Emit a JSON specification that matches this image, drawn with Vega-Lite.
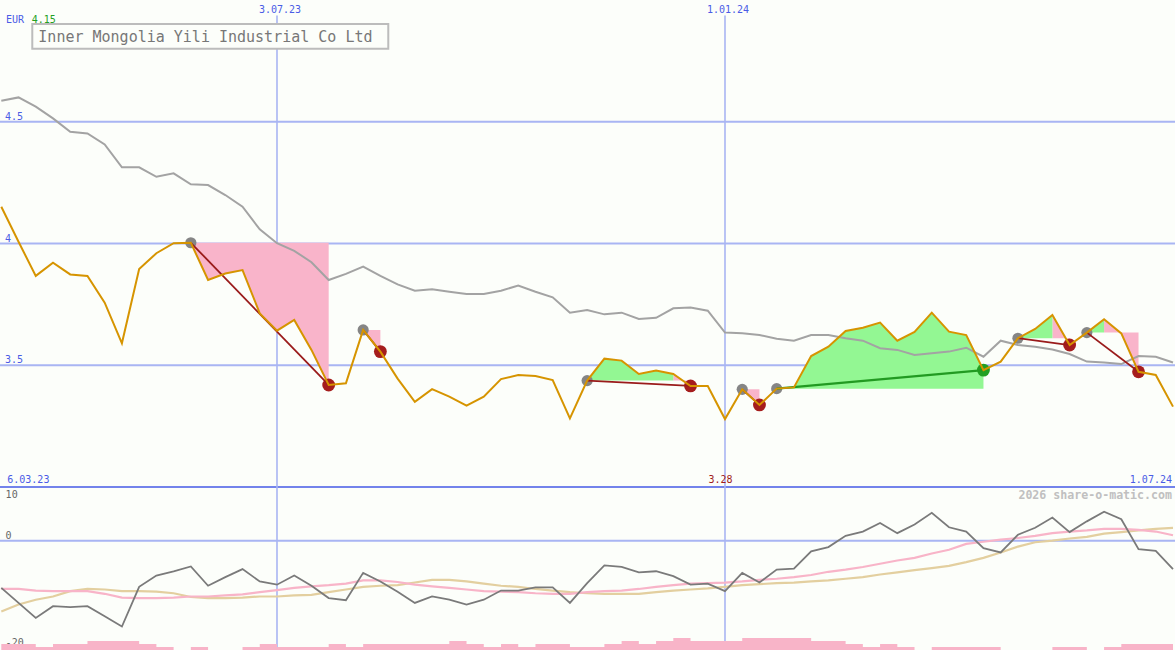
{
  "$schema": "https://vega.github.io/schema/vega-lite/v6.json",
  "width": 1175,
  "height": 650,
  "autosize": "none",
  "padding": 0,
  "background": "#fcfefa",
  "config": {"view": {"stroke": null}, "font": "DejaVu Sans Mono"},
  "datasets": {
    "prices": [
      {"date": "2023-03-13", "close": 4.151, "ma": 4.586},
      {"date": "2023-03-20", "close": 4.007, "ma": 4.600},
      {"date": "2023-03-27", "close": 3.867, "ma": 4.562},
      {"date": "2023-04-03", "close": 3.921, "ma": 4.514},
      {"date": "2023-04-10", "close": 3.873, "ma": 4.459},
      {"date": "2023-04-17", "close": 3.867, "ma": 4.452},
      {"date": "2023-04-24", "close": 3.757, "ma": 4.407},
      {"date": "2023-05-01", "close": 3.590, "ma": 4.313},
      {"date": "2023-05-08", "close": 3.895, "ma": 4.313},
      {"date": "2023-05-15", "close": 3.960, "ma": 4.274},
      {"date": "2023-05-22", "close": 4.001, "ma": 4.288},
      {"date": "2023-05-29", "close": 4.003, "ma": 4.243},
      {"date": "2023-06-05", "close": 3.850, "ma": 4.240},
      {"date": "2023-06-12", "close": 3.877, "ma": 4.199},
      {"date": "2023-06-19", "close": 3.891, "ma": 4.151},
      {"date": "2023-06-26", "close": 3.713, "ma": 4.058},
      {"date": "2023-07-03", "close": 3.642, "ma": 4.001},
      {"date": "2023-07-10", "close": 3.686, "ma": 3.970},
      {"date": "2023-07-17", "close": 3.563, "ma": 3.923},
      {"date": "2023-07-24", "close": 3.419, "ma": 3.850},
      {"date": "2023-07-31", "close": 3.426, "ma": 3.875},
      {"date": "2023-08-07", "close": 3.645, "ma": 3.905},
      {"date": "2023-08-14", "close": 3.556, "ma": 3.867},
      {"date": "2023-08-21", "close": 3.445, "ma": 3.832},
      {"date": "2023-08-28", "close": 3.350, "ma": 3.806},
      {"date": "2023-09-04", "close": 3.402, "ma": 3.812},
      {"date": "2023-09-11", "close": 3.371, "ma": 3.802},
      {"date": "2023-09-18", "close": 3.334, "ma": 3.793},
      {"date": "2023-09-25", "close": 3.371, "ma": 3.793},
      {"date": "2023-10-02", "close": 3.443, "ma": 3.806},
      {"date": "2023-10-09", "close": 3.460, "ma": 3.827},
      {"date": "2023-10-16", "close": 3.456, "ma": 3.802},
      {"date": "2023-10-23", "close": 3.439, "ma": 3.779},
      {"date": "2023-10-30", "close": 3.282, "ma": 3.716},
      {"date": "2023-11-06", "close": 3.437, "ma": 3.727},
      {"date": "2023-11-13", "close": 3.527, "ma": 3.709},
      {"date": "2023-11-20", "close": 3.519, "ma": 3.716},
      {"date": "2023-11-27", "close": 3.464, "ma": 3.690},
      {"date": "2023-12-04", "close": 3.478, "ma": 3.695},
      {"date": "2023-12-11", "close": 3.464, "ma": 3.734},
      {"date": "2023-12-18", "close": 3.415, "ma": 3.737},
      {"date": "2023-12-25", "close": 3.415, "ma": 3.724},
      {"date": "2024-01-01", "close": 3.279, "ma": 3.634},
      {"date": "2024-01-08", "close": 3.401, "ma": 3.631},
      {"date": "2024-01-15", "close": 3.337, "ma": 3.624},
      {"date": "2024-01-22", "close": 3.404, "ma": 3.609},
      {"date": "2024-01-29", "close": 3.409, "ma": 3.601},
      {"date": "2024-02-05", "close": 3.538, "ma": 3.624},
      {"date": "2024-02-12", "close": 3.576, "ma": 3.624},
      {"date": "2024-02-19", "close": 3.641, "ma": 3.611},
      {"date": "2024-02-26", "close": 3.654, "ma": 3.601},
      {"date": "2024-03-04", "close": 3.675, "ma": 3.570},
      {"date": "2024-03-11", "close": 3.601, "ma": 3.563},
      {"date": "2024-03-18", "close": 3.637, "ma": 3.542},
      {"date": "2024-03-25", "close": 3.716, "ma": 3.549},
      {"date": "2024-04-01", "close": 3.638, "ma": 3.556},
      {"date": "2024-04-08", "close": 3.624, "ma": 3.572},
      {"date": "2024-04-15", "close": 3.480, "ma": 3.535},
      {"date": "2024-04-22", "close": 3.515, "ma": 3.601},
      {"date": "2024-04-29", "close": 3.611, "ma": 3.583},
      {"date": "2024-05-06", "close": 3.649, "ma": 3.576},
      {"date": "2024-05-13", "close": 3.706, "ma": 3.565},
      {"date": "2024-05-20", "close": 3.583, "ma": 3.546},
      {"date": "2024-05-27", "close": 3.634, "ma": 3.515},
      {"date": "2024-06-03", "close": 3.689, "ma": 3.511},
      {"date": "2024-06-10", "close": 3.631, "ma": 3.505},
      {"date": "2024-06-17", "close": 3.473, "ma": 3.538},
      {"date": "2024-06-24", "close": 3.460, "ma": 3.535},
      {"date": "2024-07-01", "close": 3.330, "ma": 3.511}
    ],
    "fills": [
      {"seg": "S1", "kind": "loss", "entry": 4.003, "date": "2023-05-29", "close": 4.003},
      {"seg": "S1", "kind": "loss", "entry": 4.003, "date": "2023-06-05", "close": 3.850},
      {"seg": "S1", "kind": "loss", "entry": 4.003, "date": "2023-06-12", "close": 3.877},
      {"seg": "S1", "kind": "loss", "entry": 4.003, "date": "2023-06-19", "close": 3.891},
      {"seg": "S1", "kind": "loss", "entry": 4.003, "date": "2023-06-26", "close": 3.713},
      {"seg": "S1", "kind": "loss", "entry": 4.003, "date": "2023-07-03", "close": 3.642},
      {"seg": "S1", "kind": "loss", "entry": 4.003, "date": "2023-07-10", "close": 3.686},
      {"seg": "S1", "kind": "loss", "entry": 4.003, "date": "2023-07-17", "close": 3.563},
      {"seg": "S1", "kind": "loss", "entry": 4.003, "date": "2023-07-24", "close": 3.419},
      {"seg": "S2", "kind": "loss", "entry": 3.645, "date": "2023-08-07", "close": 3.645},
      {"seg": "S2", "kind": "loss", "entry": 3.645, "date": "2023-08-14", "close": 3.556},
      {"seg": "S3a", "kind": "gain", "entry": 3.437, "date": "2023-11-06", "close": 3.437},
      {"seg": "S3a", "kind": "gain", "entry": 3.437, "date": "2023-11-13", "close": 3.527},
      {"seg": "S3a", "kind": "gain", "entry": 3.437, "date": "2023-11-20", "close": 3.519},
      {"seg": "S3a", "kind": "gain", "entry": 3.437, "date": "2023-11-27", "close": 3.464},
      {"seg": "S3a", "kind": "gain", "entry": 3.437, "date": "2023-12-04", "close": 3.478},
      {"seg": "S3a", "kind": "gain", "entry": 3.437, "date": "2023-12-11", "close": 3.464},
      {"seg": "S3b", "kind": "loss", "entry": 3.437, "date": "2023-12-11", "close": 3.464},
      {"seg": "S3b", "kind": "loss", "entry": 3.437, "date": "2023-12-18", "close": 3.415},
      {"seg": "S4", "kind": "loss", "entry": 3.401, "date": "2024-01-08", "close": 3.401},
      {"seg": "S4", "kind": "loss", "entry": 3.401, "date": "2024-01-15", "close": 3.337},
      {"seg": "S5", "kind": "gain", "entry": 3.404, "date": "2024-01-22", "close": 3.404},
      {"seg": "S5", "kind": "gain", "entry": 3.404, "date": "2024-01-29", "close": 3.409},
      {"seg": "S5", "kind": "gain", "entry": 3.404, "date": "2024-02-05", "close": 3.538},
      {"seg": "S5", "kind": "gain", "entry": 3.404, "date": "2024-02-12", "close": 3.576},
      {"seg": "S5", "kind": "gain", "entry": 3.404, "date": "2024-02-19", "close": 3.641},
      {"seg": "S5", "kind": "gain", "entry": 3.404, "date": "2024-02-26", "close": 3.654},
      {"seg": "S5", "kind": "gain", "entry": 3.404, "date": "2024-03-04", "close": 3.675},
      {"seg": "S5", "kind": "gain", "entry": 3.404, "date": "2024-03-11", "close": 3.601},
      {"seg": "S5", "kind": "gain", "entry": 3.404, "date": "2024-03-18", "close": 3.637},
      {"seg": "S5", "kind": "gain", "entry": 3.404, "date": "2024-03-25", "close": 3.716},
      {"seg": "S5", "kind": "gain", "entry": 3.404, "date": "2024-04-01", "close": 3.638},
      {"seg": "S5", "kind": "gain", "entry": 3.404, "date": "2024-04-08", "close": 3.624},
      {"seg": "S5", "kind": "gain", "entry": 3.404, "date": "2024-04-15", "close": 3.480},
      {"seg": "S6a", "kind": "gain", "entry": 3.611, "date": "2024-04-29", "close": 3.611},
      {"seg": "S6a", "kind": "gain", "entry": 3.611, "date": "2024-05-06", "close": 3.649},
      {"seg": "S6a", "kind": "gain", "entry": 3.611, "date": "2024-05-13", "close": 3.706},
      {"seg": "S6b", "kind": "loss", "entry": 3.611, "date": "2024-05-13", "close": 3.706},
      {"seg": "S6b", "kind": "loss", "entry": 3.611, "date": "2024-05-20", "close": 3.583},
      {"seg": "S7a", "kind": "gain", "entry": 3.634, "date": "2024-05-27", "close": 3.634},
      {"seg": "S7a", "kind": "gain", "entry": 3.634, "date": "2024-06-03", "close": 3.689},
      {"seg": "S7b", "kind": "loss", "entry": 3.634, "date": "2024-06-03", "close": 3.689},
      {"seg": "S7b", "kind": "loss", "entry": 3.634, "date": "2024-06-10", "close": 3.631},
      {"seg": "S7b", "kind": "loss", "entry": 3.634, "date": "2024-06-17", "close": 3.473}
    ],
    "trades": [
      {"trade": "T1", "role": "entry", "result": "loss", "date": "2023-05-29", "price": 4.003},
      {"trade": "T1", "role": "exit", "result": "loss", "date": "2023-07-24", "price": 3.419},
      {"trade": "T2", "role": "entry", "result": "loss", "date": "2023-08-07", "price": 3.645},
      {"trade": "T2", "role": "exit", "result": "loss", "date": "2023-08-14", "price": 3.556},
      {"trade": "T3", "role": "entry", "result": "loss", "date": "2023-11-06", "price": 3.437},
      {"trade": "T3", "role": "exit", "result": "loss", "date": "2023-12-18", "price": 3.415},
      {"trade": "T4", "role": "entry", "result": "loss", "date": "2024-01-08", "price": 3.401},
      {"trade": "T4", "role": "exit", "result": "loss", "date": "2024-01-15", "price": 3.337},
      {"trade": "T5", "role": "entry", "result": "gain", "date": "2024-01-22", "price": 3.404},
      {"trade": "T5", "role": "exit", "result": "gain", "date": "2024-04-15", "price": 3.480},
      {"trade": "T6", "role": "entry", "result": "loss", "date": "2024-04-29", "price": 3.611},
      {"trade": "T6", "role": "exit", "result": "loss", "date": "2024-05-20", "price": 3.583},
      {"trade": "T7", "role": "entry", "result": "loss", "date": "2024-05-27", "price": 3.634},
      {"trade": "T7", "role": "exit", "result": "loss", "date": "2024-06-17", "price": 3.473}
    ],
    "osc": [
      {"date": "2023-03-13", "osc": -8.8, "sig": -9.0, "slow": -13.2, "vol": 2},
      {"date": "2023-03-20", "osc": -11.6, "sig": -9.0, "slow": -11.9, "vol": 2},
      {"date": "2023-03-27", "osc": -14.4, "sig": -9.3, "slow": -11.0, "vol": 1},
      {"date": "2023-04-03", "osc": -12.2, "sig": -9.4, "slow": -10.4, "vol": 2},
      {"date": "2023-04-10", "osc": -12.4, "sig": -9.4, "slow": -9.4, "vol": 2},
      {"date": "2023-04-17", "osc": -12.2, "sig": -9.4, "slow": -9.0, "vol": 3},
      {"date": "2023-04-24", "osc": -14.1, "sig": -9.9, "slow": -9.1, "vol": 3},
      {"date": "2023-05-01", "osc": -16.0, "sig": -10.6, "slow": -9.4, "vol": 3},
      {"date": "2023-05-08", "osc": -8.6, "sig": -10.7, "slow": -9.4, "vol": 2},
      {"date": "2023-05-15", "osc": -6.5, "sig": -10.7, "slow": -9.5, "vol": 1},
      {"date": "2023-05-22", "osc": -5.7, "sig": -10.6, "slow": -9.8, "vol": 0},
      {"date": "2023-05-29", "osc": -4.8, "sig": -10.4, "slow": -10.5, "vol": 1},
      {"date": "2023-06-05", "osc": -8.4, "sig": -10.4, "slow": -10.7, "vol": 0},
      {"date": "2023-06-12", "osc": -6.8, "sig": -10.2, "slow": -10.7, "vol": 0},
      {"date": "2023-06-19", "osc": -5.3, "sig": -10.0, "slow": -10.6, "vol": 1},
      {"date": "2023-06-26", "osc": -7.6, "sig": -9.6, "slow": -10.4, "vol": 2},
      {"date": "2023-07-03", "osc": -8.2, "sig": -9.2, "slow": -10.4, "vol": 1},
      {"date": "2023-07-10", "osc": -6.5, "sig": -8.8, "slow": -10.2, "vol": 1},
      {"date": "2023-07-17", "osc": -8.4, "sig": -8.5, "slow": -10.1, "vol": 1},
      {"date": "2023-07-24", "osc": -10.7, "sig": -8.3, "slow": -9.6, "vol": 2},
      {"date": "2023-07-31", "osc": -11.1, "sig": -8.0, "slow": -9.1, "vol": 1},
      {"date": "2023-08-07", "osc": -6.0, "sig": -7.4, "slow": -8.6, "vol": 2},
      {"date": "2023-08-14", "osc": -7.6, "sig": -7.4, "slow": -8.4, "vol": 2},
      {"date": "2023-08-21", "osc": -9.5, "sig": -7.7, "slow": -8.3, "vol": 2},
      {"date": "2023-08-28", "osc": -11.6, "sig": -8.2, "slow": -7.8, "vol": 2},
      {"date": "2023-09-04", "osc": -10.4, "sig": -8.5, "slow": -7.3, "vol": 2},
      {"date": "2023-09-11", "osc": -11.0, "sig": -8.8, "slow": -7.3, "vol": 3},
      {"date": "2023-09-18", "osc": -11.9, "sig": -9.1, "slow": -7.6, "vol": 2},
      {"date": "2023-09-25", "osc": -11.0, "sig": -9.4, "slow": -8.0, "vol": 1},
      {"date": "2023-10-02", "osc": -9.3, "sig": -9.5, "slow": -8.4, "vol": 2},
      {"date": "2023-10-09", "osc": -9.3, "sig": -9.6, "slow": -8.6, "vol": 1},
      {"date": "2023-10-16", "osc": -8.7, "sig": -9.8, "slow": -9.0, "vol": 2},
      {"date": "2023-10-23", "osc": -8.7, "sig": -9.9, "slow": -9.3, "vol": 2},
      {"date": "2023-10-30", "osc": -11.6, "sig": -9.9, "slow": -9.6, "vol": 1},
      {"date": "2023-11-06", "osc": -7.9, "sig": -9.6, "slow": -9.8, "vol": 1},
      {"date": "2023-11-13", "osc": -4.6, "sig": -9.4, "slow": -9.9, "vol": 2},
      {"date": "2023-11-20", "osc": -4.9, "sig": -9.3, "slow": -9.9, "vol": 3},
      {"date": "2023-11-27", "osc": -5.9, "sig": -9.0, "slow": -9.9, "vol": 2},
      {"date": "2023-12-04", "osc": -5.7, "sig": -8.6, "slow": -9.6, "vol": 3},
      {"date": "2023-12-11", "osc": -6.6, "sig": -8.3, "slow": -9.3, "vol": 4},
      {"date": "2023-12-18", "osc": -8.2, "sig": -8.0, "slow": -9.1, "vol": 3},
      {"date": "2023-12-25", "osc": -8.0, "sig": -7.9, "slow": -8.9, "vol": 3},
      {"date": "2024-01-01", "osc": -9.4, "sig": -7.8, "slow": -8.6, "vol": 3},
      {"date": "2024-01-08", "osc": -6.0, "sig": -7.6, "slow": -8.3, "vol": 4},
      {"date": "2024-01-15", "osc": -7.8, "sig": -7.3, "slow": -8.1, "vol": 4},
      {"date": "2024-01-22", "osc": -5.4, "sig": -7.1, "slow": -7.9, "vol": 4},
      {"date": "2024-01-29", "osc": -5.2, "sig": -6.8, "slow": -7.8, "vol": 4},
      {"date": "2024-02-05", "osc": -2.0, "sig": -6.4, "slow": -7.6, "vol": 3},
      {"date": "2024-02-12", "osc": -1.2, "sig": -5.8, "slow": -7.4, "vol": 3},
      {"date": "2024-02-19", "osc": 0.9, "sig": -5.4, "slow": -7.1, "vol": 2},
      {"date": "2024-02-26", "osc": 1.7, "sig": -4.9, "slow": -6.8, "vol": 1},
      {"date": "2024-03-04", "osc": 3.3, "sig": -4.3, "slow": -6.3, "vol": 2},
      {"date": "2024-03-11", "osc": 1.4, "sig": -3.7, "slow": -5.9, "vol": 1},
      {"date": "2024-03-18", "osc": 3.0, "sig": -3.2, "slow": -5.5, "vol": 0},
      {"date": "2024-03-25", "osc": 5.2, "sig": -2.4, "slow": -5.1, "vol": 1},
      {"date": "2024-04-01", "osc": 2.5, "sig": -1.7, "slow": -4.7, "vol": 1},
      {"date": "2024-04-08", "osc": 1.7, "sig": -0.6, "slow": -4.0, "vol": 1},
      {"date": "2024-04-15", "osc": -1.4, "sig": -0.2, "slow": -3.2, "vol": 1},
      {"date": "2024-04-22", "osc": -2.2, "sig": 0.2, "slow": -2.2, "vol": 0},
      {"date": "2024-04-29", "osc": 1.1, "sig": 0.5, "slow": -1.1, "vol": 0},
      {"date": "2024-05-06", "osc": 2.4, "sig": 0.9, "slow": -0.3, "vol": 0},
      {"date": "2024-05-13", "osc": 4.3, "sig": 1.4, "slow": 0.0, "vol": 1},
      {"date": "2024-05-20", "osc": 1.6, "sig": 1.7, "slow": 0.4, "vol": 1},
      {"date": "2024-05-27", "osc": 3.6, "sig": 1.9, "slow": 0.7, "vol": 0},
      {"date": "2024-06-03", "osc": 5.4, "sig": 2.2, "slow": 1.3, "vol": 1},
      {"date": "2024-06-10", "osc": 4.0, "sig": 2.2, "slow": 1.6, "vol": 2},
      {"date": "2024-06-17", "osc": -1.6, "sig": 2.0, "slow": 1.9, "vol": 2},
      {"date": "2024-06-24", "osc": -1.9, "sig": 1.7, "slow": 2.2, "vol": 2},
      {"date": "2024-07-01", "osc": -5.3, "sig": 1.0, "slow": 2.4, "vol": 2}
    ],
    "xticks": [
      {"date": "2023-07-03", "label": "3.07.23"},
      {"date": "2024-01-01", "label": "1.01.24"}
    ],
    "topgrid": [
      {"v": 3.5, "label": "3.5"},
      {"v": 4, "label": "4"},
      {"v": 4.5, "label": "4.5"}
    ],
    "lowgrid": [
      {"v": 0, "label": "0"},
      {"v": -20, "label": "-20"}
    ]
  },
  "layer": [
    {
      "layer": [
        {
          "data": {"name": "topgrid"},
          "mark": {"type": "rule", "color": "#a9b5f3", "strokeWidth": 2},
          "encoding": {
            "y": {"field": "v", "type": "quantitative", "scale": {"domain": [3, 5], "range": [487, 0], "nice": false, "zero": false}, "axis": null}
          }
        },
        {
          "data": {"values": [{}]},
          "mark": {"type": "rule", "color": "#7383eb", "strokeWidth": 2},
          "encoding": {
            "y": {"datum": 3.0, "type": "quantitative", "scale": {"domain": [3, 5], "range": [487, 0], "nice": false, "zero": false}, "axis": null}
          }
        },
        {
          "data": {"name": "xticks"},
          "mark": {"type": "rule", "color": "#a9b5f3", "strokeWidth": 1.6},
          "encoding": {
            "x": {"field": "date", "type": "temporal",
              "scale": {"type": "utc", "domain": [{"year": 2023, "month": 3, "date": 12, "hours": 11, "minutes": 17, "utc": true}, {"year": 2024, "month": 7, "date": 1, "hours": 19, "minutes": 30, "utc": true}]},
              "axis": null},
            "y": {"datum": 4.936, "type": "quantitative", "scale": {"domain": [3, 5], "range": [487, 0], "nice": false, "zero": false}, "axis": null},
            "y2": {"datum": 3.0}
          }
        },
        {
          "data": {"name": "fills"},
          "transform": [{"filter": "datum.kind == 'loss'"}],
          "mark": {"type": "area", "color": "#f9b4ca", "opacity": 1},
          "encoding": {
            "x": {"field": "date", "type": "temporal", "axis": null},
            "y": {"field": "close", "type": "quantitative", "scale": {"domain": [3, 5], "range": [487, 0], "nice": false, "zero": false}, "axis": null},
            "y2": {"field": "entry"},
            "detail": {"field": "seg"}
          }
        },
        {
          "data": {"name": "fills"},
          "transform": [{"filter": "datum.kind == 'gain'"}],
          "mark": {"type": "area", "color": "#93f793", "opacity": 1},
          "encoding": {
            "x": {"field": "date", "type": "temporal", "axis": null},
            "y": {"field": "close", "type": "quantitative", "scale": {"domain": [3, 5], "range": [487, 0], "nice": false, "zero": false}, "axis": null},
            "y2": {"field": "entry"},
            "detail": {"field": "seg"}
          }
        },
        {
          "data": {"name": "prices"},
          "mark": {"type": "line", "color": "#a3a3a3", "strokeWidth": 2},
          "encoding": {
            "x": {"field": "date", "type": "temporal", "axis": null},
            "y": {"field": "ma", "type": "quantitative", "scale": {"domain": [3, 5], "range": [487, 0], "nice": false, "zero": false}, "axis": null}
          }
        },
        {
          "data": {"name": "trades"},
          "transform": [{"filter": "datum.role == 'entry'"}],
          "mark": {"type": "circle", "color": "#858585", "opacity": 1, "size": 125},
          "encoding": {
            "x": {"field": "date", "type": "temporal", "axis": null},
            "y": {"field": "price", "type": "quantitative", "scale": {"domain": [3, 5], "range": [487, 0], "nice": false, "zero": false}, "axis": null}
          }
        },
        {
          "data": {"name": "trades"},
          "transform": [{"filter": "datum.role == 'exit' && datum.result == 'loss'"}],
          "mark": {"type": "circle", "color": "#a51d1d", "opacity": 1, "size": 165},
          "encoding": {
            "x": {"field": "date", "type": "temporal", "axis": null},
            "y": {"field": "price", "type": "quantitative", "scale": {"domain": [3, 5], "range": [487, 0], "nice": false, "zero": false}, "axis": null}
          }
        },
        {
          "data": {"name": "trades"},
          "transform": [{"filter": "datum.role == 'exit' && datum.result == 'gain'"}],
          "mark": {"type": "circle", "color": "#23a023", "opacity": 1, "size": 165},
          "encoding": {
            "x": {"field": "date", "type": "temporal", "axis": null},
            "y": {"field": "price", "type": "quantitative", "scale": {"domain": [3, 5], "range": [487, 0], "nice": false, "zero": false}, "axis": null}
          }
        },
        {
          "data": {"name": "trades"},
          "transform": [{"filter": "datum.result == 'loss'"}],
          "mark": {"type": "line", "color": "#9a1b1b", "strokeWidth": 1.8},
          "encoding": {
            "x": {"field": "date", "type": "temporal", "axis": null},
            "y": {"field": "price", "type": "quantitative", "scale": {"domain": [3, 5], "range": [487, 0], "nice": false, "zero": false}, "axis": null},
            "detail": {"field": "trade"}
          }
        },
        {
          "data": {"name": "trades"},
          "transform": [{"filter": "datum.result == 'gain'"}],
          "mark": {"type": "line", "color": "#229a22", "strokeWidth": 2.4},
          "encoding": {
            "x": {"field": "date", "type": "temporal", "axis": null},
            "y": {"field": "price", "type": "quantitative", "scale": {"domain": [3, 5], "range": [487, 0], "nice": false, "zero": false}, "axis": null},
            "detail": {"field": "trade"}
          }
        },
        {
          "data": {"name": "prices"},
          "mark": {"type": "line", "color": "#d69400", "strokeWidth": 2},
          "encoding": {
            "x": {"field": "date", "type": "temporal", "axis": null},
            "y": {"field": "close", "type": "quantitative", "scale": {"domain": [3, 5], "range": [487, 0], "nice": false, "zero": false}, "axis": null}
          }
        },
        {
          "data": {"values": [{}]},
          "mark": {"type": "rect", "fill": "#fcfefa", "stroke": "#bcbcbc", "strokeWidth": 2},
          "encoding": {
            "x": {"datum": {"year": 2023, "month": 3, "date": 25, "hours": 14, "utc": true}, "type": "temporal", "axis": null},
            "x2": {"datum": {"year": 2023, "month": 8, "date": 17, "hours": 5, "utc": true}},
            "y": {"datum": 4.901, "type": "quantitative", "scale": {"domain": [3, 5], "range": [487, 0], "nice": false, "zero": false}, "axis": null},
            "y2": {"datum": 4.800}
          }
        },
        {
          "data": {"values": [{}]},
          "mark": {"type": "text", "text": "Inner Mongolia Yili Industrial Co Ltd", "align": "left", "baseline": "middle", "color": "#777777", "fontSize": 15, "font": "DejaVu Sans Mono"},
          "encoding": {
            "x": {"datum": {"year": 2023, "month": 3, "date": 28, "hours": 1, "utc": true}, "type": "temporal", "axis": null},
            "y": {"datum": 4.850, "type": "quantitative", "scale": {"domain": [3, 5], "range": [487, 0], "nice": false, "zero": false}, "axis": null}
          }
        },
        {
          "data": {"values": [{}]},
          "mark": {"type": "text", "text": "EUR", "align": "left", "baseline": "middle", "color": "#4a5ce6", "fontSize": 10, "font": "DejaVu Sans Mono"},
          "encoding": {
            "x": {"datum": {"year": 2023, "month": 3, "date": 14, "hours": 22, "utc": true}, "type": "temporal", "axis": null},
            "y": {"datum": 4.918, "type": "quantitative", "scale": {"domain": [3, 5], "range": [487, 0], "nice": false, "zero": false}, "axis": null}
          }
        },
        {
          "data": {"values": [{}]},
          "mark": {"type": "text", "text": "4.15", "align": "left", "baseline": "middle", "color": "#23a023", "fontSize": 10, "font": "DejaVu Sans Mono"},
          "encoding": {
            "x": {"datum": {"year": 2023, "month": 3, "date": 25, "hours": 8, "utc": true}, "type": "temporal", "axis": null},
            "y": {"datum": 4.918, "type": "quantitative", "scale": {"domain": [3, 5], "range": [487, 0], "nice": false, "zero": false}, "axis": null}
          }
        },
        {
          "data": {"name": "xticks"},
          "mark": {"type": "text", "align": "center", "baseline": "alphabetic", "dx": 3, "color": "#4a5ce6", "fontSize": 10, "font": "DejaVu Sans Mono"},
          "encoding": {
            "x": {"field": "date", "type": "temporal", "axis": null},
            "y": {"datum": 4.9466, "type": "quantitative", "scale": {"domain": [3, 5], "range": [487, 0], "nice": false, "zero": false}, "axis": null},
            "text": {"field": "label"}
          }
        },
        {
          "data": {"name": "topgrid"},
          "mark": {"type": "text", "align": "left", "baseline": "bottom", "color": "#4a5ce6", "fontSize": 10, "font": "DejaVu Sans Mono"},
          "encoding": {
            "x": {"datum": {"year": 2023, "month": 3, "date": 14, "hours": 12, "utc": true}, "type": "temporal", "axis": null},
            "y": {"field": "v", "type": "quantitative", "scale": {"domain": [3, 5], "range": [487, 0], "nice": false, "zero": false}, "axis": null},
            "text": {"field": "label"}
          }
        },
        {
          "data": {"values": [{}]},
          "mark": {"type": "text", "text": "6.03.23", "align": "left", "baseline": "middle", "color": "#4a5ce6", "fontSize": 10, "font": "DejaVu Sans Mono"},
          "encoding": {
            "x": {"datum": {"year": 2023, "month": 3, "date": 15, "hours": 10, "utc": true}, "type": "temporal", "axis": null},
            "y": {"datum": 3.030, "type": "quantitative", "scale": {"domain": [3, 5], "range": [487, 0], "nice": false, "zero": false}, "axis": null}
          }
        },
        {
          "data": {"values": [{}]},
          "mark": {"type": "text", "text": "3.28", "align": "center", "baseline": "middle", "color": "#a01c1c", "fontSize": 10, "font": "DejaVu Sans Mono"},
          "encoding": {
            "x": {"datum": {"year": 2023, "month": 12, "date": 30, "hours": 4, "utc": true}, "type": "temporal", "axis": null},
            "y": {"datum": 3.030, "type": "quantitative", "scale": {"domain": [3, 5], "range": [487, 0], "nice": false, "zero": false}, "axis": null}
          }
        },
        {
          "data": {"values": [{}]},
          "mark": {"type": "text", "text": "1.07.24", "align": "right", "baseline": "middle", "color": "#4a5ce6", "fontSize": 10, "font": "DejaVu Sans Mono"},
          "encoding": {
            "x": {"datum": {"year": 2024, "month": 6, "date": 30, "hours": 14, "utc": true}, "type": "temporal", "axis": null},
            "y": {"datum": 3.030, "type": "quantitative", "scale": {"domain": [3, 5], "range": [487, 0], "nice": false, "zero": false}, "axis": null}
          }
        }
      ]
    },
    {
      "layer": [
        {
          "data": {"values": [{}]},
          "mark": {"type": "rule", "color": "#a9b5f3", "strokeWidth": 2},
          "encoding": {
            "y": {"datum": 0, "type": "quantitative", "scale": {"domain": [-20, 10], "range": [648, 487], "nice": false, "zero": false}, "axis": null}
          }
        },
        {
          "data": {"name": "xticks"},
          "mark": {"type": "rule", "color": "#a9b5f3", "strokeWidth": 1.6},
          "encoding": {
            "x": {"field": "date", "type": "temporal", "axis": null},
            "y": {"datum": 10, "type": "quantitative", "scale": {"domain": [-20, 10], "range": [648, 487], "nice": false, "zero": false}, "axis": null},
            "y2": {"datum": -20.4}
          }
        },
        {
          "data": {"name": "osc"},
          "mark": {"type": "line", "color": "#e3cf9f", "strokeWidth": 2.2},
          "encoding": {
            "x": {"field": "date", "type": "temporal", "axis": null},
            "y": {"field": "slow", "type": "quantitative", "scale": {"domain": [-20, 10], "range": [648, 487], "nice": false, "zero": false}, "axis": null}
          }
        },
        {
          "data": {"name": "osc"},
          "mark": {"type": "line", "color": "#f8b4c8", "strokeWidth": 2.2},
          "encoding": {
            "x": {"field": "date", "type": "temporal", "axis": null},
            "y": {"field": "sig", "type": "quantitative", "scale": {"domain": [-20, 10], "range": [648, 487], "nice": false, "zero": false}, "axis": null}
          }
        },
        {
          "data": {"name": "osc"},
          "mark": {"type": "line", "color": "#7a7a7a", "strokeWidth": 1.8},
          "encoding": {
            "x": {"field": "date", "type": "temporal", "axis": null},
            "y": {"field": "osc", "type": "quantitative", "scale": {"domain": [-20, 10], "range": [648, 487], "nice": false, "zero": false}, "axis": null}
          }
        },
        {
          "data": {"name": "lowgrid"},
          "mark": {"type": "text", "align": "left", "baseline": "bottom", "color": "#666666", "fontSize": 10, "font": "DejaVu Sans Mono"},
          "encoding": {
            "x": {"datum": {"year": 2023, "month": 3, "date": 14, "hours": 18, "utc": true}, "type": "temporal", "axis": null},
            "y": {"field": "v", "type": "quantitative", "scale": {"domain": [-20, 10], "range": [648, 487], "nice": false, "zero": false}, "axis": null},
            "text": {"field": "label"}
          }
        },
        {
          "data": {"values": [{}]},
          "mark": {"type": "text", "text": "10", "align": "left", "baseline": "top", "color": "#666666", "fontSize": 10, "font": "DejaVu Sans Mono"},
          "encoding": {
            "x": {"datum": {"year": 2023, "month": 3, "date": 14, "hours": 18, "utc": true}, "type": "temporal", "axis": null},
            "y": {"datum": 9.45, "type": "quantitative", "scale": {"domain": [-20, 10], "range": [648, 487], "nice": false, "zero": false}, "axis": null}
          }
        },
        {
          "data": {"values": [{}]},
          "mark": {"type": "text", "text": "2026 share-o-matic.com", "align": "right", "baseline": "middle", "color": "#c0c0c0", "fontSize": 11.6, "fontWeight": "bold", "font": "DejaVu Sans Mono"},
          "encoding": {
            "x": {"datum": {"year": 2024, "month": 6, "date": 30, "hours": 14, "utc": true}, "type": "temporal", "axis": null},
            "y": {"datum": 8.38, "type": "quantitative", "scale": {"domain": [-20, 10], "range": [648, 487], "nice": false, "zero": false}, "axis": null}
          }
        }
      ]
    },
    {
      "data": {"name": "osc"},
      "mark": {"type": "area", "interpolate": "step-after", "color": "#f8b4c8", "opacity": 1},
      "encoding": {
        "x": {"field": "date", "type": "temporal", "axis": null},
        "y": {"field": "vol", "type": "quantitative", "scale": {"domain": [0, 10], "range": [650, 620], "nice": false, "zero": false}, "axis": null}
      }
    }
  ],
  "resolve": {"scale": {"y": "independent"}}
}
